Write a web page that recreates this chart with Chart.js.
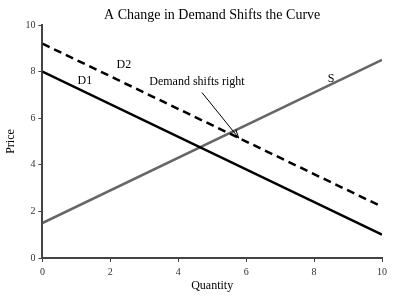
<!DOCTYPE html>
<html>
<head>
<meta charset="utf-8">
<script src="https://cdn.jsdelivr.net/npm/chart.js@4"></script>
<style>
  html, body { margin: 0; padding: 0; background: #fff; }
  #wrap { width: 395px; height: 300px; }
</style>
</head>
<body>
<div id="wrap"><canvas id="myChart" width="395" height="300"></canvas></div>
<script>
// curve end points (quantity, price)
const quantity = [0, 10];
const demand1 = [8, 1];
const demand2 = [9.2, 2.2];
const supply = [1.5, 8.5];

// text labels in data coords
const labelText = ["D1", "D2", "S", "Demand shifts right"];
const labelX = [1.25, 2.4, 8.5, 4.55];
const labelY = [7.6, 8.3, 7.7, 7.55];

// arrow from label to the new curve
const arrowFrom = [4.7, 7.1];
const arrowTo = [5.78, 5.15];

const chartTitle = "A Change in Demand Shifts the Curve";

function toPoints(ys) {
  return quantity.map((q, i) => ({ x: q, y: ys[i] }));
}

const serif = "'Liberation Serif', 'DejaVu Serif', serif";

const notes = {
  id: "notes",
  afterDatasetsDraw(chart) {
    const ctx = chart.ctx;
    const xs = chart.scales.x;
    const ys = chart.scales.y;
    const area = chart.chartArea;
    ctx.save();
    // title, centred over the plot area
    ctx.fillStyle = "#000";
    ctx.font = "14px " + serif;
    ctx.textAlign = "center";
    ctx.textBaseline = "middle";
    ctx.fillText(chartTitle, (area.left + area.right) / 2, 15);

    ctx.font = "12px " + serif;
    labelText.forEach((t, i) => {
      ctx.fillText(t, xs.getPixelForValue(labelX[i]), ys.getPixelForValue(labelY[i]));
    });
    // arrow
    const x1 = xs.getPixelForValue(arrowFrom[0]);
    const y1 = ys.getPixelForValue(arrowFrom[1]);
    const x2 = xs.getPixelForValue(arrowTo[0]);
    const y2 = ys.getPixelForValue(arrowTo[1]);
    ctx.strokeStyle = "#000";
    ctx.lineWidth = 1;
    ctx.beginPath();
    ctx.moveTo(x1, y1);
    ctx.lineTo(x2, y2);
    ctx.stroke();
    const ang = Math.atan2(y2 - y1, x2 - x1);
    const len = 9;
    ctx.beginPath();
    ctx.moveTo(x2, y2);
    ctx.lineTo(x2 - len * Math.cos(ang - 0.35), y2 - len * Math.sin(ang - 0.35));
    ctx.moveTo(x2, y2);
    ctx.lineTo(x2 - len * Math.cos(ang + 0.35), y2 - len * Math.sin(ang + 0.35));
    ctx.stroke();
    ctx.restore();
  }
};

const axisColor = "#444";

const myChart = new Chart(document.getElementById("myChart").getContext("2d"), {
  type: "scatter",
  data: {
    datasets: [
      {
        label: "D1",
        data: toPoints(demand1),
        showLine: true,
        borderColor: "#000",
        borderWidth: 2.5,
        pointRadius: 0
      },
      {
        label: "D2",
        data: toPoints(demand2),
        showLine: true,
        borderColor: "#000",
        borderWidth: 2.5,
        borderDash: [8, 5],
        pointRadius: 0
      },
      {
        label: "S",
        data: toPoints(supply),
        showLine: true,
        borderColor: "#666",
        borderWidth: 2.5,
        pointRadius: 0
      }
    ]
  },
  options: {
    responsive: false,
    animation: false,
    layout: { padding: { top: 25, right: 13, bottom: 4, left: 0 } },
    plugins: {
      legend: { display: false },
      tooltip: { enabled: false },
      title: { display: false }
    },
    scales: {
      x: {
        type: "linear",
        min: 0,
        max: 10,
        ticks: { stepSize: 2, color: "#333", font: { family: serif, size: 10, lineHeight: 1 }, padding: 5 },
        grid: { drawOnChartArea: false, color: axisColor, tickLength: 4, lineWidth: 1 },
        border: { color: axisColor, width: 2 },
        title: { display: true, text: "Quantity", color: "#000", font: { family: serif, size: 12, lineHeight: 1 }, padding: { top: -2 } }
      },
      y: {
        type: "linear",
        min: 0,
        max: 10,
        ticks: { stepSize: 2, color: "#333", font: { family: serif, size: 10 }, padding: 3 },
        grid: { drawOnChartArea: false, color: axisColor, tickLength: 4, lineWidth: 1 },
        border: { color: axisColor, width: 2 },
        title: { display: true, text: "Price", color: "#000", font: { family: serif, size: 12 }, padding: { bottom: 4 } }
      }
    }
  },
  plugins: [notes]
});
</script>
</body>
</html>
